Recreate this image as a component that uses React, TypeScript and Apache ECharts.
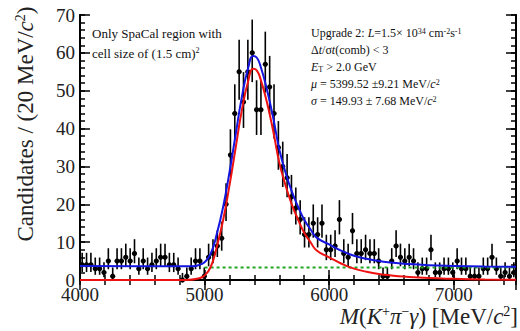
import React, { useEffect, useRef } from 'react';
import * as echarts from 'echarts';

const FONT = "'Liberation Serif', 'Times New Roman', 'DejaVu Serif', serif";

const massMin = 4000;
const massMax = 7500;
const binWidth = 35;

// candidates per bin (100 bins of 35 MeV from 4000 to 7500)
const counts = [
  4, 4, 4, 3, 3, 2, 5, 1, 5, 5,
  6, 5, 7, 3, 5, 3, 4, 5, 6, 6,
  4, 4, 3, 0, 1, 3, 5, 5, 1, 6,
  7, 9, 11, 20, 33, 44, 55, 47, 55, 60,
  45, 45, 57, 51, 44, 35, 30, 27, 22, 19,
  16, 12, 12, 15, 12, 15, 8, 8, 9, 16,
  7, 6, 13, 7, 7, 8, 7, 7, 5, 1,
  1, 5, 9, 6, 5, 6, 5, 2, 3, 3,
  8, 2, 2, 3, 3, 2, 5, 3, 3, 1,
  1, 1, 3, 3, 6, 3, 1, 2, 1, 2,
];

// signal component (red): [mass, value]
const signalCurve = [
  [4000, 0], [4850, 0], [4950, 0.4], [5000, 1.2], [5050, 3.5],
  [5100, 9], [5150, 16], [5200, 25], [5250, 35], [5300, 45], [5350, 52.5],
  [5390, 55.8], [5420, 55.3], [5450, 53], [5500, 47], [5550, 39.5], [5600, 31],
  [5650, 25], [5700, 20], [5750, 16], [5800, 12.5], [5850, 10], [5900, 7.8],
  [6000, 6], [6100, 4.3], [6200, 3], [6300, 2.2], [6400, 1.6], [6500, 1.2],
  [6600, 0.9], [6800, 0.5], [7000, 0.3], [7250, 0.15], [7500, 0.08],
];

// total fit (blue): [mass, value]
const totalCurve = [
  [4000, 3.7], [4500, 3.6], [4900, 3.6], [4950, 3.9], [5000, 4.7], [5050, 7],
  [5100, 12.4], [5150, 19.5], [5200, 28.5], [5250, 38.5], [5300, 48.5], [5350, 56],
  [5390, 59.2], [5420, 58.7], [5450, 56.4], [5500, 50.4], [5550, 43], [5600, 34.5],
  [5650, 28.4], [5700, 23.4], [5750, 19.4], [5800, 15.9], [5850, 13.4], [5900, 11.2],
  [6000, 9.4], [6100, 7.7], [6200, 6.4], [6300, 5.6], [6400, 5], [6500, 4.6],
  [6600, 4.3], [6800, 3.9], [7000, 3.7], [7250, 3.55], [7500, 3.5],
];

// combinatorial background (green dashed)
const backgroundLine = [[5000, 3.3], [7500, 3.3]];

const yMin = 0;
const yMax = 70;

function poissonUp(n: number) {
  return n + Math.sqrt(n + 0.75) + 1;
}
function poissonLow(n: number) {
  if (n <= 0) return 0;
  return n * Math.pow(1 - 1 / (9 * n) - 1 / (3 * Math.sqrt(n)), 3);
}

const pointData = counts.map((n, i) => [
  massMin + binWidth * (i + 0.5),
  n,
  poissonLow(n),
  Math.min(poissonUp(n), yMax),
]);

const sup = { fontSize: 9, verticalAlign: 'top', fontFamily: FONT, fill: '#111', color: '#111' };
const it = { fontStyle: 'italic', fontFamily: FONT, color: '#111' };

export default function App() {
  const ref = useRef<HTMLDivElement>(null);
  useEffect(() => {
    if (!ref.current) return;
    const chart = echarts.init(ref.current, undefined, { renderer: 'svg' });
    const tickLine = { color: '#000', width: 1.5 };
    const axLine = { show: true, lineStyle: { color: '#000', width: 2 } };
    const mkX = (pos: string, interval: number, len: number, labels: boolean) => ({
      type: 'value', position: pos, min: massMin, max: massMax, interval,
      axisLine: axLine, splitLine: { show: false },
      axisTick: { show: true, inside: true, length: len, lineStyle: tickLine },
      axisLabel: labels
        ? {
            show: true, fontFamily: FONT, fontSize: 19, color: '#222', margin: 5, showMaxLabel: false,
            formatter: (v: number) => String(v),
          }
        : { show: false },
    });
    const mkY = (pos: string, interval: number, len: number, labels: boolean) => ({
      type: 'value', position: pos, min: yMin, max: yMax, interval,
      axisLine: axLine, splitLine: { show: false },
      axisTick: { show: true, inside: true, length: len, lineStyle: tickLine },
      axisLabel: labels
        ? { show: true, fontFamily: FONT, fontSize: 19, color: '#222', margin: 5, formatter: (v: number) => String(v) }
        : { show: false },
    });
    const textLine = (y: number, text: string, rich: any) => ({
      type: 'text', x: 311, y,
      style: { text, fontFamily: FONT, fontSize: 12, fill: '#111', verticalAlign: 'middle', align: 'left', rich },
    });
    const smallRich = {
      i: { ...it, fontSize: 12 },
      sup: { ...sup, fontSize: 8 },
      sub: { fontSize: 8, verticalAlign: 'bottom', fontFamily: FONT, color: '#111' },
    };
    chart.setOption({
      animation: false,
      backgroundColor: '#fff',
      grid: { left: 80, right: 4, top: 15, bottom: 51 },
      xAxis: [
        mkX('bottom', 200, 5, false),
        mkX('bottom', 1000, 10, true),
        mkX('top', 200, 5, false),
        mkX('top', 1000, 10, false),
      ],
      yAxis: [
        mkY('left', 2, 5, false),
        mkY('left', 10, 10, true),
        mkY('right', 2, 5, false),
        mkY('right', 10, 10, false),
      ],
      series: [
        {
          type: 'custom',
          xAxisIndex: 0, yAxisIndex: 0,
          data: pointData,
          encode: { x: 0, y: 1 },
          z: 2,
          renderItem: (params: any, api: any) => {
            const x = api.value(0);
            const n = api.value(1);
            const lo = api.value(2);
            const hi = api.value(3);
            const pt = api.coord([x, hi]);
            const pb = api.coord([x, lo]);
            const pl = api.coord([x - binWidth / 2, n]);
            const pr = api.coord([x + binWidth / 2, n]);
            const c = api.coord([x, n]);
            return {
              type: 'group',
              children: [
                { type: 'line', shape: { x1: pt[0], y1: pt[1], x2: pb[0], y2: pb[1] }, style: { stroke: '#000', lineWidth: 1.6 } },
                { type: 'line', shape: { x1: pl[0], y1: pl[1], x2: pr[0], y2: pr[1] }, style: { stroke: '#000', lineWidth: 1.6 } },
                { type: 'circle', shape: { cx: c[0], cy: c[1], r: 2.6 }, style: { fill: '#000' } },
              ],
            };
          },
        },
        {
          type: 'line', xAxisIndex: 0, yAxisIndex: 0, data: backgroundLine, showSymbol: false,
          lineStyle: { color: '#1fa51f', width: 2, type: [3, 3] }, z: 3,
        },
        {
          type: 'line', xAxisIndex: 0, yAxisIndex: 0, data: signalCurve, showSymbol: false,
          smooth: 0.5,
          lineStyle: { color: '#ee1111', width: 2 }, z: 4,
        },
        {
          type: 'line', xAxisIndex: 0, yAxisIndex: 0, data: totalCurve, showSymbol: false,
          smooth: 0.5,
          lineStyle: { color: '#1515e0', width: 2 }, z: 5,
        },
      ],
      graphic: [
        {
          type: 'text', x: 25, y: 124, rotation: Math.PI / 2,
          style: {
            text: 'Candidates / (20 MeV/{i|c}{sup|2})',
            fontFamily: FONT, fontSize: 23, fill: '#222', align: 'center', verticalAlign: 'middle',
            rich: { i: { ...it, fontSize: 23, color: '#222' }, sup: { ...sup, fontSize: 14, color: '#222' } },
          },
        },
        {
          type: 'text', x: 518, y: 316,
          style: {
            text: '{i|M}({i|K}{sup|+}{i|π}{sup|−}{i|γ}) [MeV/{i|c}{sup|2}]',
            fontFamily: FONT, fontSize: 23, fill: '#222', align: 'right', verticalAlign: 'middle',
            rich: { i: { ...it, fontSize: 23, color: '#222' }, sup: { ...sup, fontSize: 14, color: '#222' } },
          },
        },
        {
          type: 'text', x: 92, y: 33,
          style: { text: 'Only SpaCal region with', fontFamily: FONT, fontSize: 13, fill: '#111', verticalAlign: 'middle' },
        },
        {
          type: 'text', x: 92, y: 53,
          style: {
            text: 'cell size of (1.5 cm){sup|2}', fontFamily: FONT, fontSize: 13, fill: '#111', verticalAlign: 'middle',
            rich: { sup: { ...sup, fontSize: 8 } },
          },
        },
        textLine(33, 'Upgrade 2: {i|L}=1.5× 10{sup|34} cm{sup|-2}s{sup|-1}', smallRich),
        textLine(50, 'Δ{i|t}/σ{i|t}(comb) < 3', smallRich),
        textLine(67, '{i|E}{sub|T} > 2.0 GeV', smallRich),
        textLine(84, '{i|μ} = 5399.52 ±9.21 MeV/{i|c}{sup|2}', smallRich),
        textLine(101, '{i|σ} = 149.93 ± 7.68 MeV/{i|c}{sup|2}', smallRich),
      ],
    });
    return () => chart.dispose();
  }, []);
  return (
    <div
      ref={ref}
      style={{ position: 'absolute', left: 0, top: 0, width: 520, height: 331, background: '#fff' }}
    />
  );
}
